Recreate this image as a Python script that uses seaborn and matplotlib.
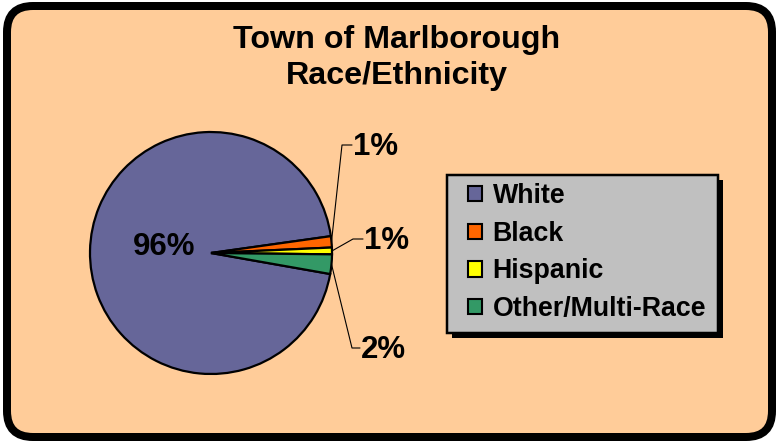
import numpy as np
import matplotlib
matplotlib.use("Agg")
import matplotlib.pyplot as plt
import seaborn as sns
from matplotlib.patches import FancyBboxPatch, Rectangle

# ---- data ----
categories = ["White", "Black", "Hispanic", "Other/Multi-Race"]
shares = [95.0, 1.5, 0.9, 2.6]          # apparent wedge sizes (%)
pct_labels = ["96%", "1%", "1%", "2%"]  # printed labels
colors = ["#666699", "#FF6600", "#FFFF00", "#339966"]
title_text = "Town of Marlborough\nRace/Ethnicity"

sns.set_theme(style="white")
plt.rcParams["font.family"] = ["Liberation Sans", "DejaVu Sans"]
plt.rcParams["text.color"] = "black"

W, H = 776, 441
fig = plt.figure(figsize=(W / 100, H / 100), dpi=100)
fig.patch.set_facecolor("white")
ax = fig.add_axes([0, 0, 1, 1])

def Y(py):
    return H - py

px2pt = 72 / 100

# pie
cx, cy, r = 211, Y(253), 121
wedges, _ = ax.pie(shares, colors=colors, center=(cx, cy), radius=r,
                   startangle=-10, counterclock=False,
                   wedgeprops=dict(edgecolor="black", linewidth=1.6),
                   frame=True)
for w in wedges:
    w.set_zorder(3)
ax.set_xlim(0, W)
ax.set_ylim(0, H)
ax.set_axis_off()
ax.set_aspect("auto")

# outer rounded frame
frame = FancyBboxPatch((7, Y(437)), 765, 431,
                       boxstyle="round,pad=0,rounding_size=26",
                       facecolor="#FFCC99", edgecolor="black",
                       linewidth=8 * px2pt, zorder=0)
ax.add_patch(frame)

# title
ax.text(397, Y(58), title_text, ha="center", va="center", color="black",
        fontsize=23.2, fontweight="bold", linespacing=1.3, zorder=5)

# big label inside
ax.text(164, Y(247), pct_labels[0], ha="center", va="center", color="black",
        fontsize=22.5, fontweight="bold", zorder=5)

# small slice labels with leader lines
elbows = [(342, 145), (353, 239), (352, 348)]
ends = [(352, 145), (363, 239), (360, 348)]
for i, (w, (ex, ey), (hx, hy)) in enumerate(zip(wedges[1:], elbows, ends)):
    th = np.deg2rad((w.theta1 + w.theta2) / 2)
    sx, sy = cx + r * np.cos(th), cy + r * np.sin(th)
    ax.plot([sx, ex, hx], [sy, Y(ey), Y(hy)], color="black", lw=0.8, zorder=4)
    ax.text(hx + 1, Y(hy) - 2, pct_labels[i + 1], ha="left", va="center",
            color="black", fontsize=22.5, fontweight="bold", zorder=5)

# legend box with shadow
lx0, ly0, lx1, ly1 = 447, 175, 718, 333
ax.add_patch(Rectangle((lx0 + 5, Y(ly1 + 5)), lx1 - lx0, ly1 - ly0,
                       facecolor="black", edgecolor="black", lw=0, zorder=6))
ax.add_patch(Rectangle((lx0, Y(ly1)), lx1 - lx0, ly1 - ly0,
                       facecolor="#C0C0C0", edgecolor="black",
                       lw=2.5 * px2pt, zorder=7))
leg = ax.legend(wedges, categories, loc="upper left",
                bbox_to_anchor=(463, Y(178)), bbox_transform=ax.transData,
                frameon=False, prop=dict(size=19.3, weight="bold"),
                handlelength=0.5, handleheight=0.5, handletextpad=0.4,
                labelspacing=0.43, borderaxespad=0, borderpad=0.2)
leg.set_zorder(8)
for t in leg.get_texts():
    t.set_color("black")
for h in leg.legend_handles:
    h.set_linewidth(1.5)
    h.set_edgecolor("black")

fig.savefig("out.png", dpi=100, facecolor="white")
